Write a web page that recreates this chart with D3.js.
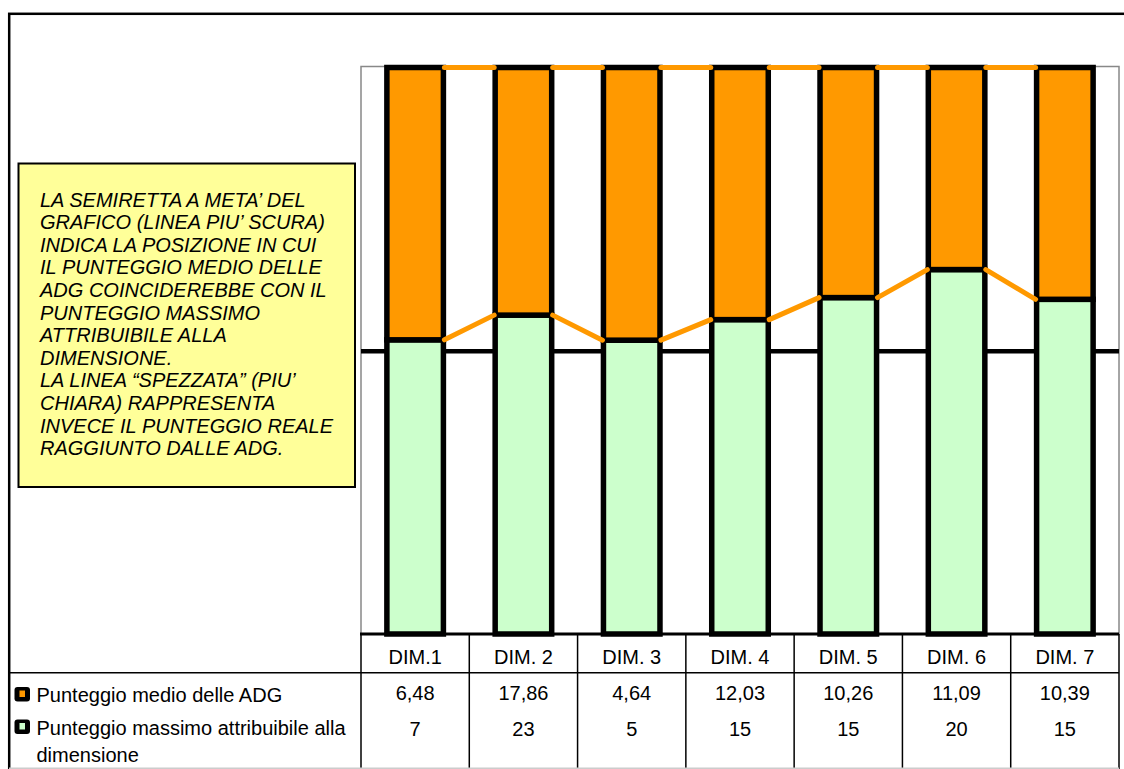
<!DOCTYPE html>
<html>
<head>
<meta charset="utf-8">
<script src="https://cdn.jsdelivr.net/npm/d3@7"></script>
<style>
  body { margin: 0; background: #fff; }
  svg { display: block; }
  text { font-family: Arial, "Liberation Sans", sans-serif; fill: #000; }
</style>
</head>
<body>
<svg id="chart" width="1124" height="769"></svg>
<script>
// Dimensions and scores
const categories = ["DIM.1", "DIM. 2", "DIM. 3", "DIM. 4", "DIM. 5", "DIM. 6", "DIM. 7"];
const medio = [6.48, 17.86, 4.64, 12.03, 10.26, 11.09, 10.39];
const massimo = [7, 23, 5, 15, 15, 20, 15];
const seriesLabels = ["Punteggio medio delle ADG", "Punteggio massimo attribuibile alla dimensione"];
const noteLines = [
  "LA SEMIRETTA A META\u2019 DEL",
  "GRAFICO (LINEA PIU\u2019 SCURA)",
  "INDICA LA POSIZIONE IN CUI",
  "IL PUNTEGGIO MEDIO DELLE",
  "ADG COINCIDEREBBE CON IL",
  "PUNTEGGIO MASSIMO",
  "ATTRIBUIBILE ALLA",
  "DIMENSIONE.",
  "LA LINEA \u201CSPEZZATA\u201D (PIU\u2019",
  "CHIARA) RAPPRESENTA",
  "INVECE IL PUNTEGGIO REALE",
  "RAGGIUNTO DALLE ADG."
];

const ORANGE = "#FF9900", GREEN = "#CCFFCC", NOTE = "#FFFF99";
const W = 1124, H = 769;
const plot = { left: 361, right: 1119, top: 67.5, bottom: 634 };

const it = d3.formatLocale({ decimal: ",", thousands: ".", grouping: [3], currency: ["", " \u20AC"] });
const fmtMedio = it.format(".2f");
const fmtMax = it.format("d");

const svg = d3.select("#chart");

// outer chart frame
svg.append("rect")
  .attr("x", 9.2).attr("y", 13.8).attr("width", W + 20).attr("height", H + 20)
  .attr("fill", "#fff").attr("stroke", "#000").attr("stroke-width", 2.5);

const x = d3.scaleBand().domain(categories)
  .range([plot.left, plot.right]).paddingInner(0.478).paddingOuter(0.239);
const y = d3.scaleLinear().domain([0, 1]).range([plot.bottom, plot.top]);

// 100% stacked: maximum score at the bottom, average score on top
const rows = categories.map((c, i) => {
  const tot = massimo[i] + medio[i];
  return { cat: c, massimo: massimo[i] / tot, medio: medio[i] / tot };
});
const layers = d3.stack().keys(["massimo", "medio"])(rows);
const fills = { massimo: GREEN, medio: ORANGE };

// plot area border
svg.append("rect")
  .attr("x", plot.left).attr("y", plot.top - 1)
  .attr("width", plot.right - plot.left).attr("height", plot.bottom - plot.top + 1)
  .attr("fill", "#fff").attr("stroke", "#888").attr("stroke-width", 1.5);

// 50% gridline
const grid = svg.append("g")
  .attr("transform", `translate(${plot.left},0)`)
  .call(d3.axisLeft(y).tickValues([0.5]).tickSize(-(plot.right - plot.left)).tickFormat(""));
grid.select(".domain").remove();
grid.selectAll(".tick line").attr("stroke", "#000").attr("stroke-width", 4.5);

// stacked columns
svg.append("g").selectAll("g")
  .data(layers).join("g")
  .attr("fill", d => fills[d.key])
  .selectAll("rect")
  .data(d => d).join("rect")
  .attr("x", d => x(d.data.cat))
  .attr("y", d => y(d[1]))
  .attr("width", x.bandwidth())
  .attr("height", d => y(d[0]) - y(d[1]))
  .attr("stroke", "#000").attr("stroke-width", 5.5)
  .attr("stroke-linejoin", "miter");

// series lines joining the stack tops between neighbouring columns
const segs = [];
layers.forEach(layer => {
  for (let i = 0; i < layer.length - 1; i++) {
    segs.push({
      x1: x(layer[i].data.cat) + x.bandwidth(), y1: y(layer[i][1]),
      x2: x(layer[i + 1].data.cat), y2: y(layer[i + 1][1])
    });
  }
});
svg.append("g").selectAll("line")
  .data(segs).join("line")
  .attr("x1", d => d.x1 + 1).attr("y1", d => d.y1)
  .attr("x2", d => d.x2 - 1).attr("y2", d => d.y2)
  .attr("stroke", ORANGE).attr("stroke-width", 5).attr("stroke-linecap", "round");

// category axis (table header)
const xAxis = svg.append("g")
  .attr("transform", `translate(0,${plot.bottom})`)
  .call(d3.axisBottom(x).tickSize(0).tickPadding(15.8));
xAxis.select(".domain").attr("stroke", "#000").attr("stroke-width", 3)
  .attr("d", `M${plot.left - 1},0H${plot.right}`);
xAxis.selectAll("text").attr("font-size", 20).attr("font-family", "Arial, 'Liberation Sans', sans-serif").attr("fill", "#000");

// data table grid
const tbl = svg.append("g").attr("stroke", "#000").attr("stroke-width", 1.5);
const step = x.step();
d3.range(categories.length + 1).forEach(k => {
  const xx = plot.left + k * step;
  tbl.append("line").attr("x1", xx).attr("x2", xx).attr("y1", plot.bottom).attr("y2", H);
});
tbl.append("line").attr("x1", 9).attr("x2", plot.right).attr("y1", 672.7).attr("y2", 672.7);
svg.append("line").attr("x1", 9).attr("x2", plot.right).attr("y1", 768.3).attr("y2", 768.3)
  .attr("stroke", "#ccc").attr("stroke-width", 1.5);

// table values
const valueRows = [
  { vals: medio.map(fmtMedio), y: 700 },
  { vals: massimo.map(fmtMax), y: 736 }
];
valueRows.forEach(r => {
  svg.append("g").selectAll("text")
    .data(r.vals).join("text")
    .attr("x", (d, i) => x(categories[i]) + x.bandwidth() / 2)
    .attr("y", r.y)
    .attr("text-anchor", "middle")
    .attr("font-size", 20)
    .text(d => d);
});

// legend keys and row labels
const keyColors = [ORANGE, GREEN];
const keyY = [687, 719.5];
keyColors.forEach((c, i) => {
  svg.append("rect").attr("x", 14.5).attr("y", keyY[i]).attr("width", 15.5).attr("height", 14.5)
    .attr("rx", 3).attr("fill", "#000");
  svg.append("rect").attr("x", 19.5).attr("y", keyY[i] + 3.5).attr("width", 5.5).attr("height", 6.5)
    .attr("fill", c);
});
svg.append("text").attr("x", 36.5).attr("y", 702).attr("font-size", 20).text(seriesLabels[0]);
const lbl2 = svg.append("text").attr("x", 36.5).attr("y", 735).attr("font-size", 20);
lbl2.append("tspan").attr("x", 36.5).text("Punteggio massimo attribuibile alla");
lbl2.append("tspan").attr("x", 36.5).attr("dy", 27).text("dimensione");

// explanatory note
svg.append("rect").attr("x", 18.5).attr("y", 163.5).attr("width", 336.5).attr("height", 323.5)
  .attr("fill", NOTE).attr("stroke", "#000").attr("stroke-width", 2);
svg.append("g").selectAll("text")
  .data(noteLines).join("text")
  .attr("x", 40)
  .attr("y", (d, i) => 206.5 + i * 22.6)
  .attr("font-size", 20)
  .attr("font-style", "italic")
  .text(d => d);
</script>
</body>
</html>
